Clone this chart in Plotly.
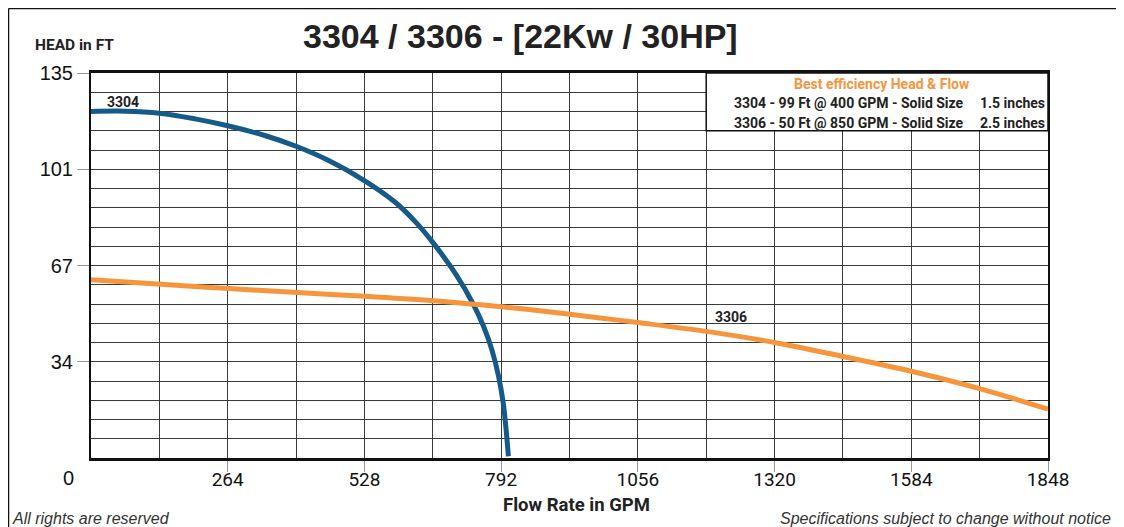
import plotly.graph_objects as go

# pump curves (flow in GPM, head in ft)
flow_3304 = [0, 66, 132, 201, 264, 337, 396, 459, 528, 588, 627, 660, 705, 738, 758, 774, 787, 796, 801, 806]
head_3304 = [121.5, 121.6, 120.9, 118.9, 116.5, 113.0, 109.3, 104.3, 97.3, 89.6, 82.7, 75.6, 64.3, 54.0,
             46.2, 38.0, 28.7, 19.3, 11.1, 0.6]

flow_3306 = [0, 135, 267, 399, 530, 662, 793, 867, 983, 1056, 1188, 1320, 1452, 1584, 1716, 1848]
head_3306 = [62.5, 60.9, 59.4, 58.0, 56.7, 55.1, 53.0, 51.6, 49.1, 47.5, 44.4, 40.5, 35.6, 30.4, 24.3, 17.1]

x_ticks = [264, 528, 792, 1056, 1320, 1584, 1848]
y_ticks = [33.75, 67.5, 101.25, 135]
y_tick_text = ['34', '67', '101', '135']

best_title = 'Best efficiency Head & Flow'
best_rows = ['3304 - 99 Ft @ 400 GPM - Solid Size', '3306 - 50 Ft @ 850 GPM - Solid Size']
solid_sizes = ['1.5 inches', '2.5 inches']

BLUE = '#165a8a'
ORANGE = '#f7953d'
NARROW = 'Roboto, sans-serif'
SANS = 'Liberation Sans, Arial, sans-serif'
GRID = '#3a3a3a'

fig = go.Figure()
fig.add_trace(go.Scatter(x=flow_3304, y=head_3304, mode='lines', name='3304',
                         line=dict(color=BLUE, width=5, shape='spline', smoothing=1)))
fig.add_trace(go.Scatter(x=flow_3306, y=head_3306, mode='lines', name='3306',
                         line=dict(color=ORANGE, width=5, shape='spline', smoothing=1)))

# curve labels
fig.add_annotation(x=62, y=124.8, text='<b>3304</b>', showarrow=False,
                   xanchor='center', yanchor='middle',
                   font=dict(family=NARROW, size=14, color='#222'))
fig.add_annotation(x=1236, y=49.4, text='<b>3306</b>', showarrow=False,
                   xanchor='center', yanchor='middle',
                   font=dict(family=NARROW, size=14, color='#222'))

# best efficiency box
fig.add_shape(type='rect', xref='x', yref='y', x0=1188, x1=1848, y0=114.75, y1=135,
              fillcolor='white', line=dict(color='#111', width=1.5), layer='above')
fig.add_annotation(x=0.8265, xref='paper', y=0.9706, yref='paper', xanchor='center', yanchor='middle',
                   text='<b>' + best_title + '</b>', showarrow=False,
                   font=dict(family=NARROW, size=14, color=ORANGE))
for i in range(len(best_rows)):
    fig.add_annotation(x=0.6698, xref='paper', y=0.9229 - i * 0.0535, yref='paper',
                       xanchor='left', yanchor='middle',
                       text='<b>' + best_rows[i] + '</b>', showarrow=False,
                       font=dict(family=NARROW, size=14, color='#222'))
    fig.add_annotation(x=0.999, xref='paper', y=0.9229 - i * 0.0535, yref='paper',
                       xanchor='right', yanchor='middle',
                       text='<b>' + solid_sizes[i] + '</b>', showarrow=False,
                       font=dict(family=NARROW, size=14, color='#222'))

# lone origin label
fig.add_annotation(x=0, y=0, text='0', showarrow=False, xshift=-23, yshift=-20,
                   xanchor='center', yanchor='middle',
                   font=dict(family=SANS, size=20, color='#111'))

# page texts
fig.add_annotation(x=0.4483, xref='paper', y=1.0961, yref='paper', xanchor='center', yanchor='middle',
                   text='<b>3304 / 3306 - [22Kw / 30HP]</b>', showarrow=False,
                   font=dict(family=SANS, size=34, color='#222'))
fig.add_annotation(x=-0.0606, xref='paper', y=1.0727, yref='paper', xanchor='left', yanchor='middle',
                   text='<b>HEAD in FT</b>', showarrow=False,
                   font=dict(family=NARROW, size=15.5, color='#222'))
fig.add_annotation(x=0.5078, xref='paper', y=-0.122, yref='paper', xanchor='center', yanchor='middle',
                   text='<b>Flow Rate in GPM</b>', showarrow=False,
                   font=dict(family=NARROW, size=18.5, color='#222'))
fig.add_annotation(x=-0.085, xref='paper', y=-0.1584, yref='paper', xanchor='left', yanchor='middle',
                   text='<i>All rights are reserved</i>', showarrow=False,
                   font=dict(family=SANS, size=16, color='#333'))
fig.add_annotation(x=1.068, xref='paper', y=-0.1584, yref='paper', xanchor='right', yanchor='middle',
                   text='<i>Specifications subject to change without notice</i>', showarrow=False,
                   font=dict(family=SANS, size=16, color='#333'))

# outer frame lines (left and top)
fig.add_shape(type='line', xref='paper', yref='paper', x0=-0.0862, x1=-0.0862, y0=-0.25, y1=1.1675,
              line=dict(color='#111', width=1.5))
fig.add_shape(type='line', xref='paper', yref='paper', x0=-0.0862, x1=1.1, y0=1.1675, y1=1.1675,
              line=dict(color='#111', width=1.5))

fig.update_xaxes(range=[0, 1848], tickvals=x_ticks, showgrid=True, gridcolor=GRID, gridwidth=1,
                 minor=dict(tickmode='linear', tick0=0, dtick=132, showgrid=True,
                            gridcolor=GRID, gridwidth=1),
                 ticks='outside', ticklen=11, tickcolor='#999', tickwidth=1, ticklabelstandoff=-9,
                 showline=True, linecolor='#111', linewidth=2.5, mirror=True, zeroline=False,
                 tickfont=dict(family=NARROW, size=19, color='#111'))
fig.update_yaxes(range=[0, 135], tickvals=y_ticks, ticktext=y_tick_text, showgrid=True,
                 gridcolor=GRID, gridwidth=1,
                 minor=dict(tickmode='linear', tick0=0, dtick=6.75, showgrid=True,
                            gridcolor=GRID, gridwidth=1),
                 ticks='outside', ticklen=12, tickcolor='#999', tickwidth=1,
                 showline=True, linecolor='#111', linewidth=2, mirror=True, zeroline=False,
                 tickfont=dict(family=SANS, size=20, color='#111'))

# the page adds an 8px body margin, so the plot area is shifted up/left to compensate
fig.update_layout(width=1124, height=527, showlegend=False,
                  margin=dict(l=83, r=84, t=65, b=77),
                  plot_bgcolor='white', paper_bgcolor='white')

fig.write_html('out.html')
